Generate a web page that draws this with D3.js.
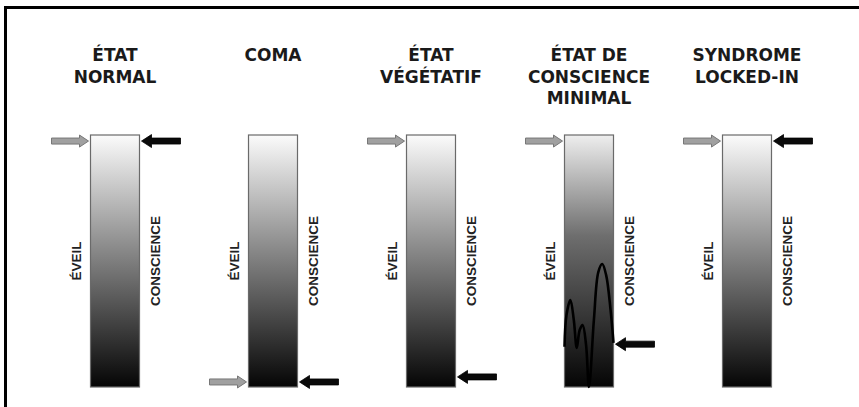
<!DOCTYPE html>
<html><head><meta charset="utf-8">
<script src="https://cdn.jsdelivr.net/npm/d3@7"></script>
<style>html,body{margin:0;padding:0;background:#fff;}svg{display:block;}</style>
</head><body>
<script>
// ---- data ----
const categories = ["ÉTAT NORMAL", "COMA", "ÉTAT VÉGÉTATIF", "ÉTAT DE CONSCIENCE MINIMAL", "SYNDROME LOCKED-IN"];
const titleLines = [["ÉTAT", "NORMAL"], ["COMA"], ["ÉTAT", "VÉGÉTATIF"], ["ÉTAT DE", "CONSCIENCE", "MINIMAL"], ["SYNDROME", "LOCKED-IN"]];
const eveilLevel = [97.6, 2, 97.6, 97.6, 97.6];          // grey arrow (éveil), 0-100
const conscienceLevel = [97.6, 2, 4, 17, 97.6];          // black arrow (conscience), 0-100
const mcsIndex = 3;                                       // fluctuating consciousness
const mcsCurveX = [0, 0.04, 0.12, 0.19, 0.25, 0.31, 0.37, 0.44, 0.50, 0.60, 0.69, 0.77, 0.85, 0.94, 1.0]; // fraction of bar width
const mcsCurveLevel = [16, 28.5, 34.5, 26.6, 15.5, 22.6, 24.6, 16.7, 0, 26.6, 45.6, 48.8, 44.4, 30.6, 17.5]; // 0-100
const leftLabel = "ÉVEIL", rightLabel = "CONSCIENCE";

// ---- layout ----
const W = 859, H = 407;
const svg = d3.select("body").append("svg").attr("width", W).attr("height", H);

const x = d3.scalePoint().domain(categories).range([115, 747]);
const y = d3.scaleLinear().domain([0, 100]).range([387, 135]);
const barW = 49;

const defs = svg.append("defs");
const grad = defs.append("linearGradient").attr("id", "g").attr("x1", 0).attr("y1", 0).attr("x2", 0).attr("y2", 1);
grad.append("stop").attr("offset", "0%").attr("stop-color", "#fbfbfb");
grad.append("stop").attr("offset", "45%").attr("stop-color", "#8a8a8a");
grad.append("stop").attr("offset", "100%").attr("stop-color", "#050505");
const grad2 = defs.append("linearGradient").attr("id", "g2").attr("x1", 0).attr("y1", 0).attr("x2", 0).attr("y2", 1);
grad2.append("stop").attr("offset", "0%").attr("stop-color", "#eeeeee");
grad2.append("stop").attr("offset", "40%").attr("stop-color", "#6e6e6e");
grad2.append("stop").attr("offset", "100%").attr("stop-color", "#050505");

// frame
svg.append("line").attr("x1", 5.5).attr("x2", 5.5).attr("y1", 6).attr("y2", H).attr("stroke", "#000").attr("stroke-width", 3);
svg.append("line").attr("x1", 4).attr("x2", W).attr("y1", 7.5).attr("y2", 7.5).attr("stroke", "#000").attr("stroke-width", 3);

const g = svg.selectAll("g.col").data(categories).enter().append("g").attr("class", "col");

// titles
g.each(function(c, i) {
  const t = d3.select(this).append("text")
    .attr("text-anchor", "middle")
    .attr("font-family", "DejaVu Sans, sans-serif").attr("font-weight", "bold")
    .attr("font-size", 17).attr("fill", "#1a1a1a");
  titleLines[i].forEach((ln, k) => {
    t.append("tspan").attr("x", x(c)).attr("y", 61 + k * 21.5).text(ln);
  });
});

// bars
g.append("rect")
  .attr("x", c => x(c) - barW / 2).attr("y", y(100))
  .attr("width", barW).attr("height", y(0) - y(100))
  .attr("fill", (c, i) => i === mcsIndex ? "url(#g2)" : "url(#g)")
  .attr("stroke", "#6a6a6a").attr("stroke-width", 1.2);

// vertical labels
g.append("text")
  .attr("transform", c => `translate(${x(c) - barW / 2 - 10},${y(50)}) rotate(-90)`)
  .attr("text-anchor", "middle")
  .attr("font-family", "Liberation Sans Narrow, Arial Narrow, sans-serif").attr("font-weight", "bold")
  .attr("font-size", 13.5).attr("fill", "#222").text(leftLabel);
g.append("text")
  .attr("transform", c => `translate(${x(c) + barW / 2 + 20},${y(50)}) rotate(-90)`)
  .attr("text-anchor", "middle")
  .attr("font-family", "Liberation Sans Narrow, Arial Narrow, sans-serif").attr("font-weight", "bold")
  .attr("font-size", 13.5).attr("fill", "#222").text(rightLabel);

// grey arrows (pointing right, ending at left edge of bar)
function greyArrow(xe, yc) {
  const L = 37, sh = 3, hh = 6, hl = 9;
  const xs = xe - L;
  return `M${xs},${yc - sh}L${xe - hl},${yc - sh}L${xe - hl},${yc - hh}L${xe},${yc}L${xe - hl},${yc + hh}L${xe - hl},${yc + sh}L${xs},${yc + sh}Z`;
}
function blackArrow(xs, yc) {
  const L = 39, sh = 3, hh = 6.5, hl = 10;
  const xe = xs + L;
  return `M${xs},${yc}L${xs + hl},${yc - hh}L${xs + hl},${yc - sh}L${xe},${yc - sh}L${xe},${yc + sh}L${xs + hl},${yc + sh}L${xs + hl},${yc + hh}Z`;
}
g.append("path")
  .attr("d", (c, i) => greyArrow(x(c) - barW / 2 - 2, y(eveilLevel[i])))
  .attr("fill", "#a0a0a0").attr("stroke", "#777").attr("stroke-width", 1);
g.append("path")
  .attr("d", (c, i) => blackArrow(x(c) + barW / 2 + 2, y(conscienceLevel[i])))
  .attr("fill", "#0a0a0a").attr("stroke", "#000").attr("stroke-width", 0.8);

// MCS fluctuation curve
const cx = x(categories[mcsIndex]) - barW / 2;
const line = d3.line()
  .x(d => cx + d[0] * barW)
  .y(d => y(d[1]))
  .curve(d3.curveCatmullRom.alpha(0.5));
svg.append("path")
  .attr("d", line(mcsCurveX.map((v, i) => [v, mcsCurveLevel[i]])))
  .attr("fill", "none").attr("stroke", "#000").attr("stroke-width", 2.6)
  .attr("stroke-linejoin", "round");
</script>
</body></html>
